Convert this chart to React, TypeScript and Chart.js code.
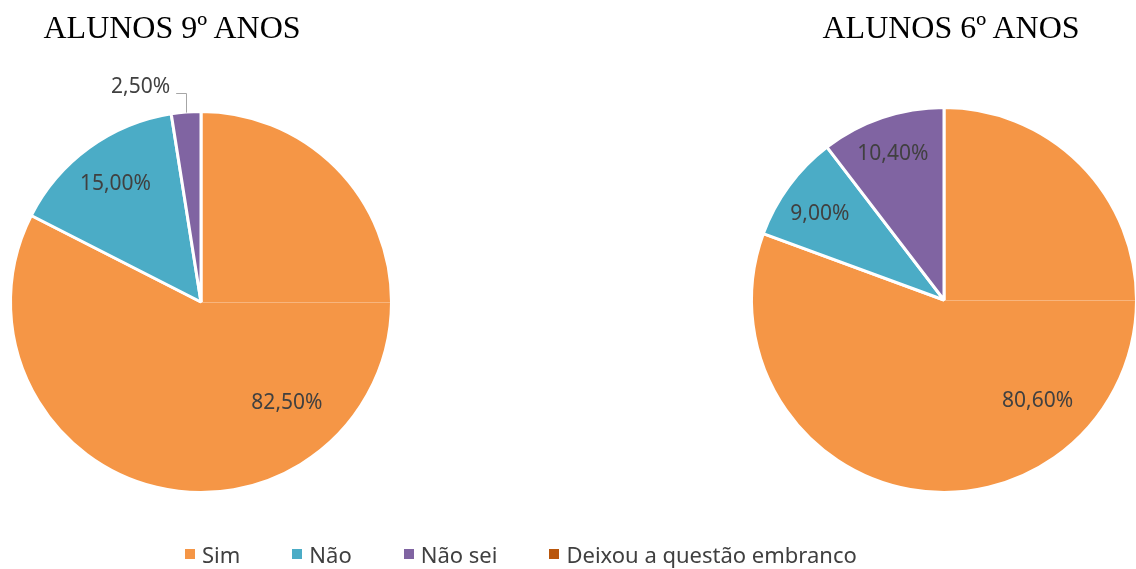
import React, { useEffect, useRef } from "react";
import { Chart, registerables } from "chart.js";

Chart.register(...registerables);

const categories = ["Sim", "Não", "Não sei", "Deixou a questão embranco"];
const legendLabels = ["Sim", "Não", "Não sei", "Deixou a questão embranco"];
const colors = ["#F59646", "#4BACC6", "#8064A2", "#B9560C"];

const chart1Title = "ALUNOS 9º ANOS";
const chart1Values = [82.5, 15.0, 2.5];

const chart2Title = "ALUNOS 6º ANOS";
const chart2Values = [80.6, 9.0, 10.4];

const W = 1140;
const H = 569;
const BW = 3;

type Placement = { ratio: number; shift: number; outside?: boolean };

const place1: Placement[] = [
  { ratio: 0.7, shift: -9 },
  { ratio: 0.77, shift: 0 },
  { ratio: 1, shift: 0, outside: true },
];
const place2: Placement[] = [
  { ratio: 0.72, shift: -8 },
  { ratio: 0.79, shift: -1.7 },
  { ratio: 0.81, shift: -0.6 },
];

const fmt = (v: number) => v.toFixed(2).replace(".", ",") + "%";

const labelPlugin = {
  id: "pieLabels",
  afterDatasetsDraw(chart: any, _args: any, opts: any) {
    const ctx = chart.ctx;
    const meta = chart.getDatasetMeta(0);
    const data = chart.data.datasets[0].data as number[];
    const placements: Placement[] = opts.placements || [];
    // faint horizontal seam at 3 o'clock
    if (meta.data.length) {
      const a0: any = meta.data[0];
      ctx.save();
      ctx.strokeStyle = "rgba(255,255,255,0.3)";
      ctx.lineWidth = 1;
      ctx.beginPath();
      ctx.moveTo(a0.x, a0.y + 0.5);
      ctx.lineTo(a0.x + a0.outerRadius - 1, a0.y + 0.5);
      ctx.stroke();
      ctx.restore();
    }
    meta.data.forEach((arc: any, i: number) => {
      const p = placements[i] || { ratio: 0.75, shift: 0 };
      const mid = (arc.startAngle + arc.endAngle) / 2 + (p.shift * Math.PI) / 180;
      const R = arc.outerRadius - BW / 2;
      ctx.save();
      ctx.font = "21px 'Noto Sans', 'Open Sans', sans-serif";
      ctx.fillStyle = "#404040";
      if (p.outside) {
        const ex = arc.x + R * Math.cos(mid);
        const ey = arc.y + R * Math.sin(mid);
        const ly = ey - 21;
        const lx = ex - 10;
        ctx.strokeStyle = "#A6A6A6";
        ctx.lineWidth = 1;
        ctx.beginPath();
        ctx.moveTo(Math.round(ex) + 0.5, ey - 1);
        ctx.lineTo(Math.round(ex) + 0.5, Math.round(ly) + 0.5);
        ctx.lineTo(lx, Math.round(ly) + 0.5);
        ctx.stroke();
        ctx.textAlign = "right";
        ctx.textBaseline = "alphabetic";
        ctx.fillText(fmt(data[i]), lx - 6, ly);
      } else {
        const tx = arc.x + R * p.ratio * Math.cos(mid);
        const ty = arc.y + R * p.ratio * Math.sin(mid);
        ctx.textAlign = "center";
        ctx.textBaseline = "middle";
        ctx.fillText(fmt(data[i]), tx, ty);
      }
      ctx.restore();
    });
  },
};

function makePie(
  canvas: HTMLCanvasElement,
  values: number[],
  cx: number,
  cy: number,
  visR: number,
  placements: Placement[]
) {
  const size = 2 * visR + 2 * BW;
  const left = cx - size / 2;
  const top = cy - size / 2;
  return new Chart(canvas, {
    type: "pie",
    data: {
      labels: categories.slice(0, values.length),
      datasets: [
        {
          data: values,
          backgroundColor: colors.slice(0, values.length),
          borderColor: "#FFFFFF",
          borderWidth: BW,
          hoverOffset: 0,
          offset: 0,
        } as any,
      ],
    },
    options: {
      responsive: false,
      animation: false,
      events: [],
      layout: {
        padding: {
          left,
          top,
          right: W - left - size,
          bottom: H - top - size,
        },
      },
      plugins: {
        legend: { display: false },
        tooltip: { enabled: false },
        title: { display: false },
        pieLabels: { placements },
      } as any,
    },
    plugins: [labelPlugin],
  });
}

export default function App() {
  const c1 = useRef<HTMLCanvasElement>(null);
  const c2 = useRef<HTMLCanvasElement>(null);

  useEffect(() => {
    const ch1 = makePie(c1.current!, chart1Values, 201, 302, 189, place1);
    const ch2 = makePie(c2.current!, chart2Values, 944, 300, 191, place2);
    return () => {
      ch1.destroy();
      ch2.destroy();
    };
  }, []);

  const titleStyle: React.CSSProperties = {
    position: "absolute",
    top: 9,
    fontFamily: "'Liberation Serif', 'Times New Roman', serif",
    fontSize: 32,
    lineHeight: "36px",
    color: "#000",
    whiteSpace: "nowrap",
    transform: "translateX(-50%)",
  };

  return (
    <div
      style={{
        position: "absolute",
        left: 0,
        top: 0,
        width: 1136,
        height: 569,
        overflow: "hidden",
        background: "#fff",
      }}
    >
      <canvas
        ref={c1}
        width={W}
        height={H}
        style={{ position: "absolute", left: 0, top: 0, width: W, height: H }}
      />
      <canvas
        ref={c2}
        width={W}
        height={H}
        style={{ position: "absolute", left: 0, top: 0, width: W, height: H }}
      />
      <div style={{ ...titleStyle, left: 172 }}>{chart1Title}</div>
      <div style={{ ...titleStyle, left: 951 }}>{chart2Title}</div>
      <div
        style={{
          position: "absolute",
          left: 185,
          top: 539,
          display: "flex",
          alignItems: "center",
          gap: 52,
          fontFamily: "'Noto Sans', 'Open Sans', sans-serif",
          fontSize: 22,
          lineHeight: "30px",
          color: "#404040",
          whiteSpace: "nowrap",
        }}
      >
        {legendLabels.map((l, i) => (
          <div key={l} style={{ display: "flex", alignItems: "center" }}>
            <span
              style={{
                display: "inline-block",
                width: 10,
                height: 10,
                background: colors[i],
                marginRight: 7,
              }}
            />
            <span>{l}</span>
          </div>
        ))}
      </div>
    </div>
  );
}
